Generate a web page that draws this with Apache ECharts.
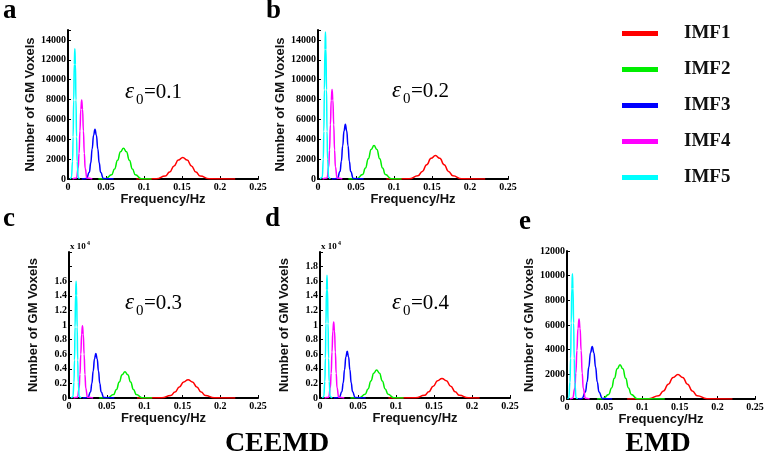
<!DOCTYPE html>
<html><head><meta charset="utf-8">
<script src="https://cdn.jsdelivr.net/npm/echarts@6/dist/echarts.min.js"></script>
<style>html,body{margin:0;padding:0;background:#fff}#c{width:767px;height:464px}</style>
</head><body><div id="c"></div>
<script>
// ---- data ----
const imfNames = ['IMF1', 'IMF2', 'IMF3', 'IMF4', 'IMF5'];
const xTickValues = [0, 0.05, 0.1, 0.15, 0.2, 0.25];
const panelLetters = ['a', 'b', 'c', 'd', 'e'];
const epsilonValues = ['0.1', '0.2', '0.3', '0.4'];
const groupTitles = ['CEEMD', 'EMD'];

const a_IMF1 = [[0.09,0],[0.1165,25],[0.128,295],[0.13375,705],[0.1395,1315],[0.14525,1915],[0.151,2170],[0.15675,1915],[0.1625,1315],[0.16825,705],[0.174,295],[0.1855,25],[0.22,0]];
const a_IMF2 = [[0.04,0],[0.0496,35],[0.0574,420],[0.0613,1010],[0.0652,1880],[0.0691,2735],[0.073,3100],[0.0769,2735],[0.0808,1880],[0.0847,1010],[0.0886,420],[0.0964,35],[0.11,0]];
const a_IMF3 = [[0.018,0],[0.0244,55],[0.0281,675],[0.02995,1625],[0.0318,3035],[0.03365,4410],[0.0355,5000],[0.03735,4410],[0.0392,3035],[0.04105,1625],[0.0429,675],[0.0466,55],[0.06,0]];
const a_IMF4 = [[0.006,0],[0.0111,90],[0.0134,1070],[0.01455,2580],[0.0157,4830],[0.01685,7010],[0.018,7950],[0.01915,7010],[0.0203,4830],[0.02145,2580],[0.0226,1070],[0.0249,90],[0.032,0]];
const a_IMF5 = [[0.003,0],[0.0045,145],[0.006,1770],[0.00675,4260],[0.0075,7950],[0.00825,11550],[0.009,13100],[0.00975,11550],[0.0105,7950],[0.01125,4260],[0.012,1770],[0.0135,145],[0.015,0]];

const b_IMF1 = [[0.09,0],[0.12,26],[0.1315,320],[0.13725,765],[0.143,1430],[0.14875,2080],[0.1545,2360],[0.16025,2080],[0.166,1430],[0.17175,765],[0.1775,320],[0.189,26],[0.22,0]];
const b_IMF2 = [[0.04,0],[0.0512,37],[0.0587,455],[0.06245,1095],[0.0662,2045],[0.06995,2970],[0.0737,3370],[0.07745,2970],[0.0812,2045],[0.08495,1095],[0.0887,455],[0.0962,37],[0.11,0]];
const b_IMF3 = [[0.018,0],[0.0255,60],[0.029,745],[0.03075,1790],[0.0325,3340],[0.03425,4850],[0.036,5500],[0.03775,4850],[0.0395,3340],[0.04125,1790],[0.043,745],[0.0465,60],[0.06,0]];
const b_IMF4 = [[0.006,0],[0.0119,100],[0.0141,1215],[0.0152,2925],[0.0163,5460],[0.0174,7940],[0.0185,9000],[0.0196,7940],[0.0207,5460],[0.0218,2925],[0.0229,1215],[0.0251,100],[0.032,0]];
const b_IMF5 = [[0.003,0],[0.0056,165],[0.007,2000],[0.0077,4810],[0.0084,8985],[0.0091,13050],[0.0098,14800],[0.0105,13050],[0.0112,8985],[0.0119,4810],[0.0126,2000],[0.014,165],[0.016,0]];

const c_IMF1 = [[0.09,0],[0.123,28],[0.1345,340],[0.14025,810],[0.146,1520],[0.15175,2205],[0.1575,2500],[0.16325,2205],[0.169,1520],[0.17475,810],[0.1805,340],[0.192,28],[0.22,0]];
const c_IMF2 = [[0.04,0],[0.0515,40],[0.059,485],[0.06275,1170],[0.0665,2185],[0.07025,3175],[0.074,3600],[0.07775,3175],[0.0815,2185],[0.08525,1170],[0.089,485],[0.0965,40],[0.11,0]];
const c_IMF3 = [[0.018,0],[0.025,65],[0.0285,825],[0.03025,1980],[0.032,3700],[0.03375,5380],[0.0355,6100],[0.03725,5380],[0.039,3700],[0.04075,1980],[0.0425,825],[0.046,65],[0.06,0]];
const c_IMF4 = [[0.006,0],[0.0112,110],[0.0134,1335],[0.0145,3220],[0.0156,6010],[0.0167,8730],[0.0178,9900],[0.0189,8730],[0.02,6010],[0.0211,3220],[0.0222,1335],[0.0244,110],[0.032,0]];
const c_IMF5 = [[0.003,0],[0.0052,175],[0.0066,2160],[0.0073,5200],[0.008,9710],[0.0087,14110],[0.0094,16000],[0.0101,14110],[0.0108,9710],[0.0115,5200],[0.0122,2160],[0.0136,175],[0.016,0]];

const d_IMF1 = [[0.09,0],[0.126,30],[0.1375,360],[0.14325,870],[0.149,1625],[0.15475,2365],[0.1605,2680],[0.16625,2365],[0.172,1625],[0.17775,870],[0.1835,360],[0.195,30],[0.21,0]];
const d_IMF2 = [[0.04,0],[0.052,42],[0.0595,520],[0.06325,1250],[0.067,2335],[0.07075,3395],[0.0745,3850],[0.07825,3395],[0.082,2335],[0.08575,1250],[0.0895,520],[0.097,42],[0.11,0]];
const d_IMF3 = [[0.018,0],[0.0253,70],[0.0288,865],[0.03055,2080],[0.0323,3885],[0.03405,5645],[0.0358,6400],[0.03755,5645],[0.0393,3885],[0.04105,2080],[0.0428,865],[0.0463,70],[0.06,0]];
const d_IMF4 = [[0.006,0],[0.0114,115],[0.0136,1405],[0.0147,3380],[0.0158,6310],[0.0169,9170],[0.018,10400],[0.0191,9170],[0.0202,6310],[0.0213,3380],[0.0224,1405],[0.0246,115],[0.032,0]];
const d_IMF5 = [[0.003,0],[0.005,185],[0.0064,2270],[0.0071,5460],[0.0078,10200],[0.0085,14820],[0.0092,16800],[0.0099,14820],[0.0106,10200],[0.0113,5460],[0.012,2270],[0.0134,185],[0.016,0]];

const e_IMF1 = [[0.08,0],[0.109,22],[0.1219,265],[0.1283,645],[0.1347,1200],[0.1411,1745],[0.1475,1980],[0.1539,1745],[0.1603,1200],[0.1667,645],[0.1731,265],[0.186,22],[0.22,0]];
const e_IMF2 = [[0.04,0],[0.048,30],[0.0555,375],[0.05925,900],[0.063,1680],[0.06675,2445],[0.0705,2770],[0.07425,2445],[0.078,1680],[0.08175,900],[0.0855,375],[0.093,30],[0.13,0]];
const e_IMF3 = [[0.015,0],[0.02,47],[0.0245,575],[0.02675,1385],[0.029,2585],[0.03125,3755],[0.0335,4260],[0.03575,3755],[0.038,2585],[0.04025,1385],[0.0425,575],[0.047,47],[0.06,0]];
const e_IMF4 = [[0.004,0],[0.0076,70],[0.0104,875],[0.0118,2105],[0.0132,3935],[0.0146,5715],[0.016,6480],[0.0174,5715],[0.0188,3935],[0.0202,2105],[0.0216,875],[0.0244,70],[0.03,0]];
const e_IMF5 = [[0.001,0],[0.0024,110],[0.004,1370],[0.0048,3300],[0.0056,6160],[0.0064,8950],[0.0072,10150],[0.008,8950],[0.0088,6160],[0.0096,3300],[0.0104,1370],[0.012,110],[0.014,0]];

// ---- layout / style ----
const imfColors = ['#ff0000', '#00ee00', '#0000ff', '#ff00ff', '#00ffff'];
const serif = 'Liberation Serif';
const sans = 'Liberation Sans';

const panels = [
  { grid: {left: 68, top: 30, width: 190, height: 149}, yMax: 15000, yLabelMax: 14000, sci: false, xNameGap: 14, series: [a_IMF1, a_IMF2, a_IMF3, a_IMF4, a_IMF5] },
  { grid: {left: 318, top: 30, width: 190, height: 149}, yMax: 15000, yLabelMax: 14000, sci: false, xNameGap: 14, series: [b_IMF1, b_IMF2, b_IMF3, b_IMF4, b_IMF5] },
  { grid: {left: 69, top: 252, width: 189, height: 146}, yMax: 20000, yLabelMax: 16000, sci: true, xNameGap: 11, series: [c_IMF1, c_IMF2, c_IMF3, c_IMF4, c_IMF5] },
  { grid: {left: 320, top: 252, width: 190, height: 146}, yMax: 20000, yLabelMax: 18000, sci: true, xNameGap: 11, series: [d_IMF1, d_IMF2, d_IMF3, d_IMF4, d_IMF5] },
  { grid: {left: 567, top: 251, width: 188, height: 148}, yMax: 12000, yLabelMax: 12000, sci: false, xNameGap: 11, series: [e_IMF1, e_IMF2, e_IMF3, e_IMF4, e_IMF5] }
];

const tickFont = {fontFamily: serif, fontWeight: 'bold', fontSize: 10, color: '#000'};
const nameFont = {fontFamily: sans, fontWeight: 'bold', fontSize: 13, color: '#111'};

const grids = [], xAxes = [], yAxes = [], series = [];
panels.forEach((p, i) => {
  grids.push(Object.assign({}, p.grid));
  xAxes.push({
    type: 'value', gridIndex: i, min: 0, max: 0.25, interval: 0.05,
    name: 'Frequency/Hz', nameLocation: 'middle', nameGap: p.xNameGap, nameTextStyle: nameFont,
    axisLine: {lineStyle: {color: '#000', width: 2}},
    axisTick: {inside: true, length: 3, lineStyle: {color: '#000', width: 1}},
    axisLabel: Object.assign({margin: 3, showMaxLabel: true, showMinLabel: true,
      formatter: v => String(+v.toFixed(2))}, tickFont),
    splitLine: {show: false}
  });
  yAxes.push({
    type: 'value', gridIndex: i, min: 0, max: p.yMax, interval: 2000,
    name: 'Number of GM Voxels', nameLocation: 'middle', nameGap: 29, nameTextStyle: nameFont,
    axisLine: {show: true, lineStyle: {color: '#000', width: 2}},
    axisTick: {show: true, inside: true, length: 3, lineStyle: {color: '#000', width: 1}},
    axisLabel: Object.assign({margin: 2, showMaxLabel: true,
      formatter: v => v > p.yLabelMax ? '' : (p.sci ? String(v / 10000) : String(v))}, tickFont),
    splitLine: {show: false}
  });
  p.series.forEach((d, k) => {
    series.push({
      type: 'line', name: imfNames[k], xAxisIndex: i, yAxisIndex: i, data: d,
      smooth: 0.5, smoothMonotone: 'x', showSymbol: false, symbol: 'none',
      lineStyle: {color: imfColors[k], width: 1.5}, itemStyle: {color: imfColors[k]},
      z: 2 + k
    });
  });
});

// text overlays
const graphic = [];
const letterPos = [[3, 11], [266, 11], [3, 219], [265, 219], [519, 222]];
panelLetters.forEach((t, i) => graphic.push({
  type: 'text', left: letterPos[i][0], top: letterPos[i][1] - 13,
  style: {text: t, font: 'bold 27px ' + serif, fill: '#000'}
}));
const epsPos = [[125, 99], [392, 98], [125, 310], [392, 310]];
epsilonValues.forEach((v, i) => {
  const [x, base] = epsPos[i];
  graphic.push({type: 'text', x: x, y: base - 7, style: {text: 'ε', font: 'italic 23px ' + serif, fill: '#000', verticalAlign: 'middle'}});
  graphic.push({type: 'text', x: x + 11, y: base + 1, style: {text: '0', font: '15px ' + serif, fill: '#000', verticalAlign: 'middle'}});
  graphic.push({type: 'text', x: x + 19, y: base - 7, style: {text: '=' + v, font: '21px ' + serif, fill: '#000', verticalAlign: 'middle'}});
});
[[70, 247], [321, 247]].forEach(([x, y]) => {
  graphic.push({type: 'text', x: x, y: y, style: {text: 'x 10', font: 'bold 9px ' + serif, fill: '#000', verticalAlign: 'middle'}});
  graphic.push({type: 'text', x: x + 17, y: y - 4, style: {text: '4', font: 'bold 6px ' + serif, fill: '#000', verticalAlign: 'middle'}});
});
const titlePos = [[277, 444], [658, 444]];
groupTitles.forEach((t, i) => graphic.push({
  type: 'text', x: titlePos[i][0], y: titlePos[i][1],
  style: {text: t, font: 'bold 28px ' + serif, fill: '#000', align: 'center', verticalAlign: 'middle'}
}));

const chart = echarts.init(document.getElementById('c'), null, {renderer: 'canvas'});
chart.setOption({
  animation: false,
  backgroundColor: '#fff',
  grid: grids, xAxis: xAxes, yAxis: yAxes, series: series,
  legend: {
    data: imfNames, orient: 'vertical', left: 617, top: 19, itemGap: 17,
    itemWidth: 36, itemHeight: 5, icon: 'rect', selectedMode: false,
    textStyle: {fontFamily: serif, fontWeight: 'bold', fontSize: 19, color: '#111', padding: [0, 0, 0, 21]}
  },
  graphic: graphic
});
</script></body></html>
